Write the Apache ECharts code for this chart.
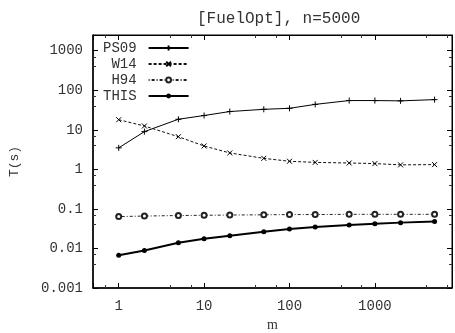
<!DOCTYPE html>
<html>
<head>
<meta charset="utf-8">
<script src="https://cdn.jsdelivr.net/npm/echarts@6/dist/echarts.min.js"></script>
<style>html,body{margin:0;padding:0;background:#fff}#c{width:455px;height:333px}</style>
</head>
<body>
<div id="c"></div>
<script>
var m = [1, 2, 5, 10, 20, 50, 100, 200, 500, 1000, 2000, 5000];
var ps09 = [3.5, 9, 18.5, 23, 29, 33, 35, 44, 55, 55, 54, 58];
var w14 = [18, 12.5, 6.7, 3.9, 2.6, 1.9, 1.6, 1.5, 1.45, 1.4, 1.3, 1.32];
var h94 = [0.064, 0.066, 0.068, 0.069, 0.070, 0.071, 0.072, 0.072, 0.073, 0.073, 0.073, 0.073];
var thisTimes = [0.0067, 0.0089, 0.014, 0.0175, 0.021, 0.0265, 0.031, 0.035, 0.039, 0.042, 0.045, 0.048];
var seriesNames = ['PS09', 'W14', 'H94', 'THIS'];
var titleText = '[FuelOpt], n=5000';
var xName = 'm';
var yName = 'T(s)';

function pairs(ys) { return m.map(function (x, i) { return [x, ys[i]]; }); }
var FONT = 'Liberation Mono';
var TXT = '#333';
var plusPath = 'path://M5,0L5,10M0,5L10,5';
var crossPath = 'path://M0,0L10,10M10,0L0,10';

function powLabel(v) {
  var l = Math.log10(v);
  if (Math.abs(l - Math.round(l)) > 1e-6) return '';
  return String(+v.toPrecision(6));
}
var tickStyle = {inside: true, length: 5, lineStyle: {color: '#000', width: 1}};
var minorStyle = {show: true, splitNumber: 3, length: 3, lineStyle: {color: '#333', width: 1}};

var chart = echarts.init(document.getElementById('c'), null, {renderer: 'canvas'});
chart.setOption({
  animation: false,
  backgroundColor: '#fff',
  title: {
    text: titleText, left: 192, top: 6,
    textStyle: {fontFamily: FONT, fontSize: 16, fontWeight: 'normal', color: TXT}
  },
  grid: {left: 93, right: 3, top: 35, bottom: 45, outerBoundsMode: 'none', containLabel: false,
    show: true, borderColor: '#000', borderWidth: 1, backgroundColor: 'transparent'},
  legend: {
    orient: 'vertical', align: 'right', left: 103, top: 41,
    itemWidth: 40, itemHeight: 6, itemGap: 2, padding: 0,
    formatter: function (n) { return ('    ' + n).slice(-4); },
    textStyle: {fontFamily: FONT, fontSize: 14, lineHeight: 14, color: TXT, padding: [0, 7, 0, 0]},
    data: seriesNames
  },
  xAxis: [{
    type: 'log', min: 0.5, max: 8000, logBase: 10,
    name: xName, nameLocation: 'middle', nameGap: 29,
    nameTextStyle: {fontFamily: 'Liberation Serif', fontSize: 14, color: TXT},
    axisLine: {lineStyle: {color: '#000', width: 1.5}},
    axisTick: tickStyle, minorTick: minorStyle,
    splitLine: {show: false},
    axisLabel: {fontFamily: FONT, fontSize: 14, color: TXT, margin: 11, showMinLabel: false, showMaxLabel: false, formatter: powLabel}
  }, {
    type: 'log', min: 0.5, max: 8000, position: 'top',
    axisLine: {lineStyle: {color: '#000'}},
    axisTick: tickStyle, minorTick: minorStyle,
    splitLine: {show: false}, axisLabel: {show: false}
  }],
  yAxis: [{
    type: 'log', min: 0.001, max: 2500, logBase: 10,
    name: yName, nameLocation: 'middle', nameGap: 72, nameRotate: 90,
    nameTextStyle: {fontFamily: FONT, fontSize: 13, color: TXT},
    axisLine: {lineStyle: {color: '#000', width: 1.5}},
    axisTick: tickStyle, minorTick: minorStyle,
    splitLine: {show: false},
    axisLabel: {fontFamily: FONT, fontSize: 14, color: TXT, margin: 10, showMinLabel: true, showMaxLabel: false, formatter: powLabel}
  }, {
    type: 'log', min: 0.001, max: 2500, position: 'right',
    axisLine: {lineStyle: {color: '#000'}},
    axisTick: tickStyle, minorTick: minorStyle,
    splitLine: {show: false}, axisLabel: {show: false}
  }],
  series: [{
    name: 'PS09', type: 'line', data: pairs(ps09),
    symbol: plusPath, symbolSize: 6, showSymbol: true,
    lineStyle: {color: '#000', width: 1},
    itemStyle: {color: '#000', borderColor: '#000', borderWidth: 1}
  }, {
    name: 'W14', type: 'line', data: pairs(w14),
    symbol: crossPath, symbolSize: 5,
    lineStyle: {color: '#111', width: 1, type: [3, 2]},
    itemStyle: {color: '#000', borderColor: '#000', borderWidth: 1}
  }, {
    name: 'H94', type: 'line', data: pairs(h94),
    symbol: 'emptyCircle', symbolSize: 5,
    lineStyle: {color: '#222', width: 1, type: [1, 2, 3, 2]},
    itemStyle: {color: '#222', borderColor: '#222', borderWidth: 1}
  }, {
    name: 'THIS', type: 'line', data: pairs(thisTimes),
    symbol: 'circle', symbolSize: 5,
    lineStyle: {color: '#000', width: 2},
    itemStyle: {color: '#000'}
  }]
});
</script>
</body>
</html>
